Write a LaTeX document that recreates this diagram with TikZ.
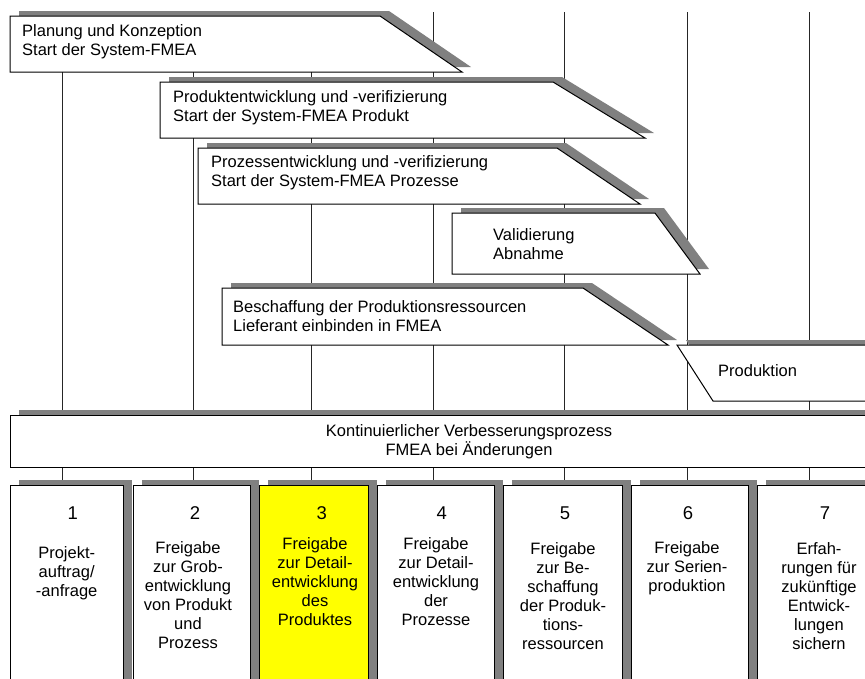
\documentclass[tikz,border=0pt]{standalone}
\usepackage{fontspec}
\setmainfont{Liberation Sans}
\definecolor{shade}{HTML}{808080}
\definecolor{hilite}{HTML}{FFFF00}
\newcommand\lbfont{\fontsize{16.5}{19}\selectfont}
\newcommand\numfont{\fontsize{18.5}{20}\selectfont}
\tikzset{
  boxline/.style={draw=black, line width=1pt, fill=white},
  shadowfill/.style={fill=shade, draw=none, shift={(9pt,5pt)}},
  vline/.style={draw=black!85, line width=0.9pt},
  lbl/.style={font=\lbfont, inner sep=0pt, align=left, anchor=west},
  clbl/.style={font=\lbfont, inner sep=0pt, align=center},
  numlbl/.style={font=\numfont, inner sep=0pt},
}
% phase box: left, top, bottom, top-right x, bottom-right x
\newcommand\phasebox[5]{%
  \path[shadowfill] (#1,#2) -- (#4,#2) -- (#5,#3) -- (#1,#3) -- cycle;
  \path[boxline] (#1,#2) -- (#4,#2) -- (#5,#3) -- (#1,#3) -- cycle;
}
\newcommand\gatebox[3]{% left, right, fill
  \path[shadowfill] (#1,485) rectangle (#2,700);
  \path[boxline, fill=#3] (#1,485) rectangle (#2,700);
}
\begin{document}
\begin{tikzpicture}[x=1pt,y=-1pt]
\useasboundingbox (0,0) rectangle (865,678);
\clip (0,0) rectangle (865,678);
\fill[white] (0,0) rectangle (865,678);
% milestone lines
\foreach \x in {62,193,311,433,564,687,809}
  \draw[vline] (\x,12) -- (\x,690);
% phases
\phasebox{10}{16}{72}{380}{462}
\node[lbl] (p1) at (22,42) {Planung und Konzeption\\Start der System-FMEA};
\phasebox{160}{82}{138}{553}{645}
\node[lbl] (p2) at (173,107.5) {Produktentwicklung und -verifizierung\\Start der System-FMEA Produkt};
\phasebox{198}{148}{204}{557}{640}
\node[lbl] (p3) at (211,172.5) {Prozessentwicklung und -verifizierung\\Start der System-FMEA Prozesse};
\phasebox{452}{213}{274}{655}{700}
\node[lbl] (p4) at (493,244) {Validierung\\Abnahme};
\phasebox{222}{288}{345}{583}{668}
\node[lbl] (p5) at (233,316) {Beschaffung der Produktionsressourcen\\Lieferant einbinden in FMEA};
\path[shadowfill] (677,345) -- (890,345) -- (890,401) -- (713,401) -- cycle;
\path[boxline] (677,345) -- (890,345) -- (890,401) -- (713,401) -- cycle;
\node[lbl] (p6) at (718,371) {Produktion};
% continuous improvement
\path[shadowfill] (10,415) rectangle (890,467);
\path[boxline] (10,415) rectangle (890,467);
\node[clbl] (kvp) at (469,442) {Kontinuierlicher Verbesserungsprozess\\FMEA bei Änderungen};
% gates
\gatebox{10}{123}{white}
\gatebox{133}{250}{white}
\gatebox{259}{368}{hilite}
\gatebox{377}{494}{white}
\gatebox{503}{622}{white}
\gatebox{631}{748}{white}
\gatebox{757}{881}{white}
\node[numlbl] (n1) at (72.7,513.5) {1};
\node[numlbl] (n2) at (195,513.5) {2};
\node[numlbl] (n3) at (321.7,513.5) {3};
\node[numlbl] (n4) at (441.7,513.5) {4};
\node[numlbl] (n5) at (565,513.5) {5};
\node[numlbl] (n6) at (688,513.5) {6};
\node[numlbl] (n7) at (825,513.5) {7};
\node[clbl] (g1) at (66.7,573) {Projekt-\\auftrag/\\-anfrage};
\node[clbl] (g2) at (188,595.5) {Freigabe\\zur Grob-\\entwicklung\\von Produkt\\und\\Prozess};
\node[clbl] (g3) at (315,582) {Freigabe\\zur Detail-\\entwicklung\\des\\Produktes};
\node[clbl] (g4) at (436,582) {Freigabe\\zur Detail-\\entwicklung\\der\\Prozesse};
\node[clbl] (g5) at (563,596) {Freigabe\\zur Be-\\schaffung\\der Produk-\\tions-\\ressourcen};
\node[clbl] (g6) at (687,568) {Freigabe\\zur Serien-\\produktion};
\node[clbl] (g7) at (819,596) {Erfah-\\rungen für\\zukünftige\\Entwick-\\lungen\\sichern};
\end{tikzpicture}
\end{document}
